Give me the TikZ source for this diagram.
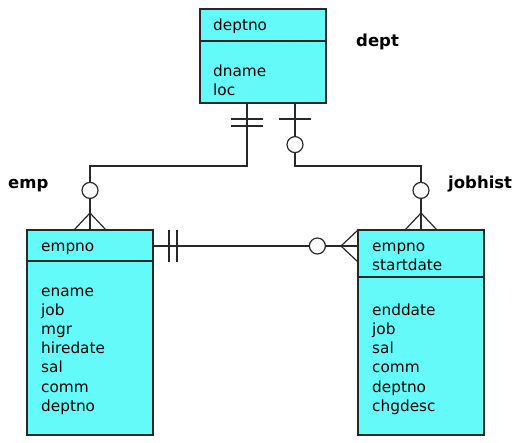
\documentclass[tikz,border=0pt]{standalone}
\usepackage{fontspec}
\setmainfont{DejaVu Sans}
\usetikzlibrary{positioning,calc}
\definecolor{entityfill}{RGB}{100,250,250}
\definecolor{lineclr}{RGB}{40,40,40}
\tikzset{
  basic/.style    = {draw=lineclr, fill=entityfill, line width=1.2pt, rectangle,
  inner sep=0pt, outer sep=0pt, minimum width=126pt, anchor=north west},
  keybox/.style   = {basic},
  attrbox/.style  = {basic},
  field/.style    = {anchor=base west, inner sep=0pt, font=\fontsize{15.3}{19}\selectfont},
  tablename/.style = {anchor=base west, inner sep=0pt, font=\fontsize{16.5}{19}\selectfont\bfseries},
  conn/.style     = {draw=lineclr, line width=1.2pt},
  opt/.style      = {circle, draw=lineclr, fill=white, line width=1.2pt,
  minimum size=16pt, inner sep=0pt}
}

\begin{document}
\begin{tikzpicture}[x=1pt,y=-1pt]
\useasboundingbox (0,0) rectangle (530,443);
% dept
\node[keybox, minimum height=32pt] (deptkey) at (200,9) {};
\node[attrbox, minimum height=62pt, below=0pt of deptkey] (deptattr) {};
\node[field] (deptf0) at ($(deptkey.north west)+(13,22)$) {deptno};
\node[field] (deptf1) at ($(deptattr.north west)+(13,36)$) {dname};
\node[field] (deptf2) at ($(deptattr.north west)+(13,55)$) {loc};
\node[tablename] (deptname) at (356,47) {dept};
% emp
\node[keybox, minimum height=31pt] (empkey) at (27,230) {};
\node[attrbox, minimum height=174pt, below=0pt of empkey] (empattr) {};
\node[field] (empk0) at ($(empkey.north west)+(14,22)$) {empno};
\foreach \f [count=\i from 0] in {ename,job,mgr,hiredate,sal,comm,deptno}
  \node[field] (empf\i) at ($(empattr.north west)+(14,{36+19*\i})$) {\f};
\node[tablename] (empname) at (8,189) {emp};
% jobhist
\node[keybox, minimum height=47pt] (jobkey) at (358,230) {};
\node[attrbox, minimum height=158pt, below=0pt of jobkey] (jobattr) {};
\node[field] (jobk0) at ($(jobkey.north west)+(14,22)$) {empno};
\node[field] (jobk1) at ($(jobkey.north west)+(14,41)$) {startdate};
\foreach \f [count=\i from 0] in {enddate,job,sal,comm,deptno,chgdesc}
  \node[field] (jobf\i) at ($(jobattr.north west)+(14,{39+19*\i})$) {\f};
\node[tablename] (jobname) at (448,189) {jobhist};

% relationships
\coordinate (deptl) at ($(deptattr.south west)+(47,0)$);
\coordinate (deptr) at ($(deptattr.south east)+(-31,0)$);
\coordinate (empend) at ($(empkey.east)+(0,0.5)$);
\coordinate (jobend) at (empend -| jobkey.west);
\draw[conn] (deptl) -- ++(0,63) -| (empkey.north);
\draw[conn] (deptr) -- ++(0,63) -| (jobkey.north);
\draw[conn] (empend) -- (jobend);

% one (bars)
\draw[conn] ($(deptl)+(-16,16)$) -- ++(32,0);
\draw[conn] ($(deptl)+(-16,23)$) -- ++(32,0);
\draw[conn] ($(deptr)+(-16,16)$) -- ++(32,0);
\draw[conn] ($(empend)+(16,-16)$) -- ++(0,32);
\draw[conn] ($(empend)+(24,-16)$) -- ++(0,32);

% many (crow's feet)
\draw[conn] ($(empkey.north)+(-16,0)$) -- ($(empkey.north)+(0,-17)$) -- ($(empkey.north)+(16,0)$);
\draw[conn] ($(jobkey.north)+(-16,0)$) -- ($(jobkey.north)+(0,-17)$) -- ($(jobkey.north)+(16,0)$);
\draw[conn] ($(jobend)+(0,-16)$) -- ($(jobend)+(-17,0)$) -- ($(jobend)+(0,16)$);

% zero (circles)
\node[opt, above=31pt of empkey] (empopt) {};
\node[opt, above=31pt of jobkey] (jobopt) {};
\node[opt, left=32pt of jobend] (jobopt2) {};
\node[opt, below=33pt of deptr] (deptopt) {};
\end{tikzpicture}
\end{document}
